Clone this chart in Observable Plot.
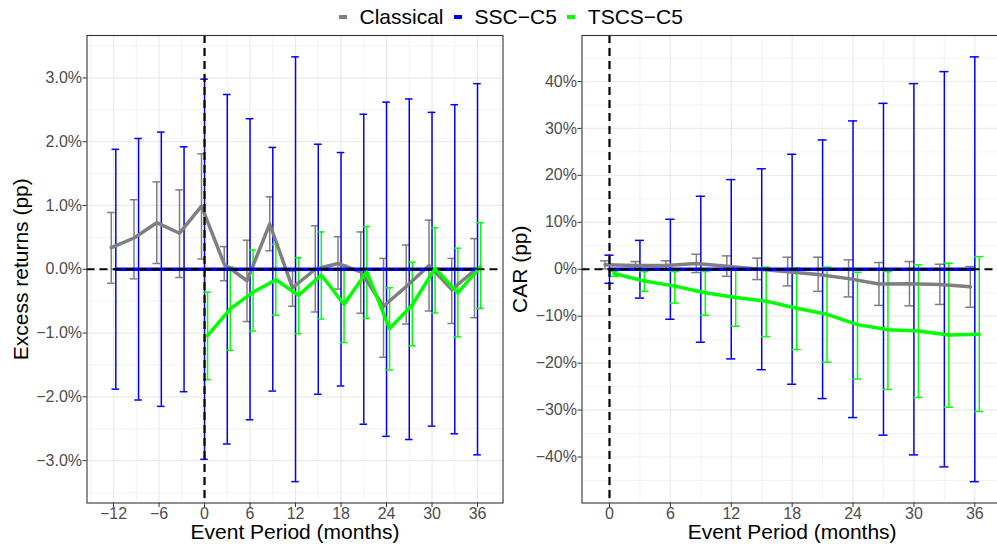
<!DOCTYPE html>
<html>
<head>
<meta charset="utf-8">
<script src="https://cdn.jsdelivr.net/npm/d3@7"></script>
<script src="https://cdn.jsdelivr.net/npm/@observablehq/plot@0.6"></script>
<style>
html,body{margin:0;padding:0;background:#fff;overflow:hidden;width:997px;height:546px}
#wrap{position:relative;width:997px;height:546px;overflow:hidden;font-family:"Liberation Sans",Arial,sans-serif}
#p1{position:absolute;left:0;top:0;width:510px;height:546px}
#p2{position:absolute;left:510px;top:0;width:500px;height:546px}
#p1 svg,#p2 svg{max-width:none !important;width:auto}
#legend{position:absolute;left:339px;top:4.75px;display:flex;align-items:center;font-size:21px;line-height:24px;color:#000;white-space:nowrap;z-index:2}
.sw{display:inline-block;width:7.5px;height:4px;margin-right:13px;position:relative;top:0px}
.lab{margin-right:10.5px}
svg g[aria-label="x-axis tick label"], svg g[aria-label="y-axis tick label"]{fill:#4d4d4d}
svg g[aria-label="x-axis tick"], svg g[aria-label="y-axis tick"]{stroke:#333333}
</style>
</head>
<body>
<div id="wrap">
  <div id="p1"></div>
  <div id="p2"></div>
  <div id="legend"></div>
</div>
<script>
// ---------- data ----------
const seriesNames = ["Classical", "SSC\u2212C5", "TSCS\u2212C5"];
const seriesColors = ["#7f7f7f", "#0000ff", "#00ff00"];

const monthsAll = [-12, -9, -6, -3, 0, 3, 6, 9, 12, 15, 18, 21, 24, 27, 30, 33, 36];
const monthsPost = [0, 3, 6, 9, 12, 15, 18, 21, 24, 27, 30, 33, 36];

// Left panel: monthly excess returns (%)
const leftClassicalMean = [0.34, 0.49, 0.73, 0.565, 0.99, 0.08, -0.18, 0.71, -0.29, 0.0, 0.09, -0.04, -0.58, -0.27, 0.06, -0.32, -0.02];
const leftClassicalHi   = [0.89, 1.09, 1.37, 1.245, 1.81, 0.355, 0.455, 1.135, -0.03, 0.68, 0.51, 0.585, 0.17, 0.38, 0.77, 0.17, 0.48];
const leftClassicalLo   = [-0.22, -0.15, 0.09, -0.13, 0.16, -0.18, -0.82, 0.29, -0.58, -0.67, -0.31, -0.69, -1.38, -0.86, -0.655, -0.85, -0.76];

const leftSSCMean = [0, 0, 0, 0, 0, 0, 0, 0, 0, 0, 0, 0, 0, 0, 0, 0, 0];
const leftSSCHalf = [1.88, 2.05, 2.15, 1.92, 2.98, 2.74, 2.36, 1.91, 3.33, 1.96, 1.83, 2.43, 2.62, 2.67, 2.46, 2.58, 2.91];

const leftTSCSMean = [-1.04, -0.62, -0.36, -0.165, -0.41, -0.09, -0.55, -0.04, -0.93, -0.56, 0.015, -0.37, 0.04];
const leftTSCSHi   = [-0.36, 0.04, 0.30, 0.39, 0.18, 0.585, 0.06, 0.67, -0.29, 0.11, 0.65, 0.33, 0.73];
const leftTSCSLo   = [-1.73, -1.27, -0.97, -0.72, -1.01, -0.78, -1.15, -0.77, -1.58, -1.20, -0.685, -1.06, -0.615];

// Right panel: cumulative abnormal returns (%)
const rightClassicalMean = [0.94, 0.8, 0.8, 1.25, 0.65, 0.05, -0.55, -1.1, -2.0, -3.15, -3.1, -3.25, -3.75];
const rightClassicalHi   = [1.8, 1.64, 1.8, 3.2, 2.85, 2.35, 2.56, 2.56, 2.0, 1.43, 1.64, 1.07, 0.58];
const rightClassicalLo   = [0.08, -0.05, -0.2, -0.7, -1.5, -2.2, -3.55, -4.7, -5.9, -7.7, -7.8, -7.5, -8.1];

const rightSSCMean = [0, 0, 0, 0, 0, 0, 0, 0, 0, 0, 0, 0, 0];
const rightSSCHalf = [3.0, 6.15, 10.65, 15.55, 19.1, 21.4, 24.5, 27.55, 31.6, 35.35, 39.55, 42.1, 45.25];

const rightTSCSMean = [-0.9, -2.5, -3.6, -5.0, -6.0, -6.8, -8.3, -9.6, -11.8, -12.9, -13.15, -14.0, -13.85];
const rightTSCSHi   = [-0.45, -0.5, -0.5, -0.5, 0.08, 0.43, 0.3, 0.43, -0.64, -0.5, 0.94, 1.28, 2.7];
const rightTSCSLo   = [-1.5, -4.7, -7.2, -9.8, -12.15, -14.35, -17.1, -19.8, -23.4, -25.6, -27.3, -29.4, -30.3];

// tick values
const leftXTicks = [-12, -6, 0, 6, 12, 18, 24, 30, 36];
const leftXMinor = [-15, -9, -3, 3, 9, 15, 21, 27, 33, 39];
const leftYTicks = [-3, -2, -1, 0, 1, 2, 3];
const leftYMinor = [-3.5, -2.5, -1.5, -0.5, 0.5, 1.5, 2.5, 3.5];
const rightXTicks = [0, 6, 12, 18, 24, 30, 36];
const rightXMinor = [3, 9, 15, 21, 27, 33];
const rightYTicks = [-40, -30, -20, -10, 0, 10, 20, 30, 40];
const rightYMinor = [-45, -35, -25, -15, -5, 5, 15, 25, 35, 45];

// ---------- build rows ----------
function rowsFrom(months, mean, lo, hi, offset) {
  return months.map((m, i) => ({m, x: m + offset(m), mean: mean[i], lo: lo[i], hi: hi[i]}));
}
function rowsHalf(months, mean, half, offset) {
  return months.map((m, i) => ({m, x: m + offset(m), mean: mean[i], lo: mean[i] - half[i], hi: mean[i] + half[i]}));
}

const leftSeries = [
  {color: seriesColors[0], rows: rowsFrom(monthsAll, leftClassicalMean, leftClassicalLo, leftClassicalHi, m => m < 0 ? -0.3 : -0.4)},
  {color: seriesColors[1], rows: rowsHalf(monthsAll, leftSSCMean, leftSSCHalf, m => m < 0 ? 0.3 : 0)},
  {color: seriesColors[2], rows: rowsFrom(monthsPost, leftTSCSMean, leftTSCSLo, leftTSCSHi, m => 0.4)}
];
const rightSeries = [
  {color: seriesColors[0], rows: rowsFrom(monthsPost, rightClassicalMean, rightClassicalLo, rightClassicalHi, m => -0.44)},
  {color: seriesColors[1], rows: rowsHalf(monthsPost, rightSSCMean, rightSSCHalf, m => 0)},
  {color: seriesColors[2], rows: rowsFrom(monthsPost, rightTSCSMean, rightTSCSLo, rightTSCSHi, m => 0.44)}
];

const minus = s => s.replace("-", "\u2212");

function panel(o) {
  const marks = [
    Plot.ruleX(o.xMinor, {stroke: "#ebebeb", strokeWidth: 0.6}),
    Plot.ruleY(o.yMinor, {stroke: "#ebebeb", strokeWidth: 0.6}),
    Plot.ruleX(o.xTicks, {stroke: "#ebebeb", strokeWidth: 1.2}),
    Plot.ruleY(o.yTicks, {stroke: "#ebebeb", strokeWidth: 1.2})
  ];
  for (const s of o.series) {
    marks.push(
      Plot.ruleX(s.rows, {x: "x", y1: "lo", y2: "hi", stroke: s.color, strokeWidth: 1.5}),
      Plot.ruleY(s.rows, {y: "hi", x1: d => d.x - o.cap, x2: d => d.x + o.cap, stroke: s.color, strokeWidth: 1.5}),
      Plot.ruleY(s.rows, {y: "lo", x1: d => d.x - o.cap, x2: d => d.x + o.cap, stroke: s.color, strokeWidth: 1.5})
    );
  }
  for (const s of o.series) {
    marks.push(Plot.line(s.rows, {x: "x", y: "mean", stroke: s.color, strokeWidth: 3.5, strokeLinejoin: "round"}));
  }
  marks.push(
    Plot.ruleY([0], {stroke: "#000", strokeWidth: 2.2, strokeDasharray: "8,5"}),
    Plot.ruleX([0], {stroke: "#000", strokeWidth: 2.2, strokeDasharray: "8,5"}),
    Plot.frame({stroke: "#333333", strokeWidth: 1.1}),
    Plot.axisX(o.xTicks, {tickSize: 4.5, tickPadding: 0, fontSize: 16, label: null, tickFormat: d => minus(String(d))}),
    Plot.axisY(o.yTicks, {tickSize: 4, tickPadding: 1, fontSize: 16, label: null, tickFormat: o.yFmt}),
    Plot.text([o.xlabel], {frameAnchor: "bottom", lineAnchor: "middle", textAnchor: "middle", dy: 29.5, fontSize: 21, fill: "#000"}),
    Plot.text([o.ylabel], {frameAnchor: "left", lineAnchor: "middle", textAnchor: "middle", rotate: -90, dx: o.ylabelDx, fontSize: 21, fill: "#000"})
  );
  return Plot.plot({
    width: o.width,
    height: 546,
    marginTop: 35,
    marginBottom: 43.5,
    marginLeft: o.marginLeft,
    marginRight: o.marginRight,
    x: {domain: o.xDomain},
    y: {domain: o.yDomain},
    style: {fontFamily: "'Liberation Sans', Arial, sans-serif", background: "transparent", overflow: "visible", maxWidth: "none"},
    marks
  });
}

document.getElementById("p1").appendChild(panel({
  series: leftSeries,
  width: 510, marginLeft: 86.5, marginRight: 7.5,
  xDomain: [-15.5, 39.36], yDomain: [-3.665, 3.665],
  xTicks: leftXTicks, xMinor: leftXMinor, yTicks: leftYTicks, yMinor: leftYMinor,
  yFmt: d => minus(d.toFixed(1) + "%"),
  cap: 0.5,
  xlabel: "Event Period (months)", ylabel: "Excess returns (pp)", ylabelDx: -66
}));

document.getElementById("p2").appendChild(panel({
  series: rightSeries,
  width: 500, marginLeft: 71.5, marginRight: 8.2,
  xDomain: [-2.71, 38.71], yDomain: [-49.8, 49.8],
  xTicks: rightXTicks, xMinor: rightXMinor, yTicks: rightYTicks, yMinor: rightYMinor,
  yFmt: d => minus(d + "%"),
  cap: 0.45,
  xlabel: "Event Period (months)", ylabel: "CAR (pp)", ylabelDx: -61.6
}));

// legend
const legend = document.getElementById("legend");
seriesNames.forEach((name, i) => {
  const sw = document.createElement("span");
  sw.className = "sw";
  sw.style.background = seriesColors[i];
  const lab = document.createElement("span");
  lab.className = "lab";
  lab.textContent = name;
  legend.appendChild(sw);
  legend.appendChild(lab);
});
</script>
</body>
</html>
